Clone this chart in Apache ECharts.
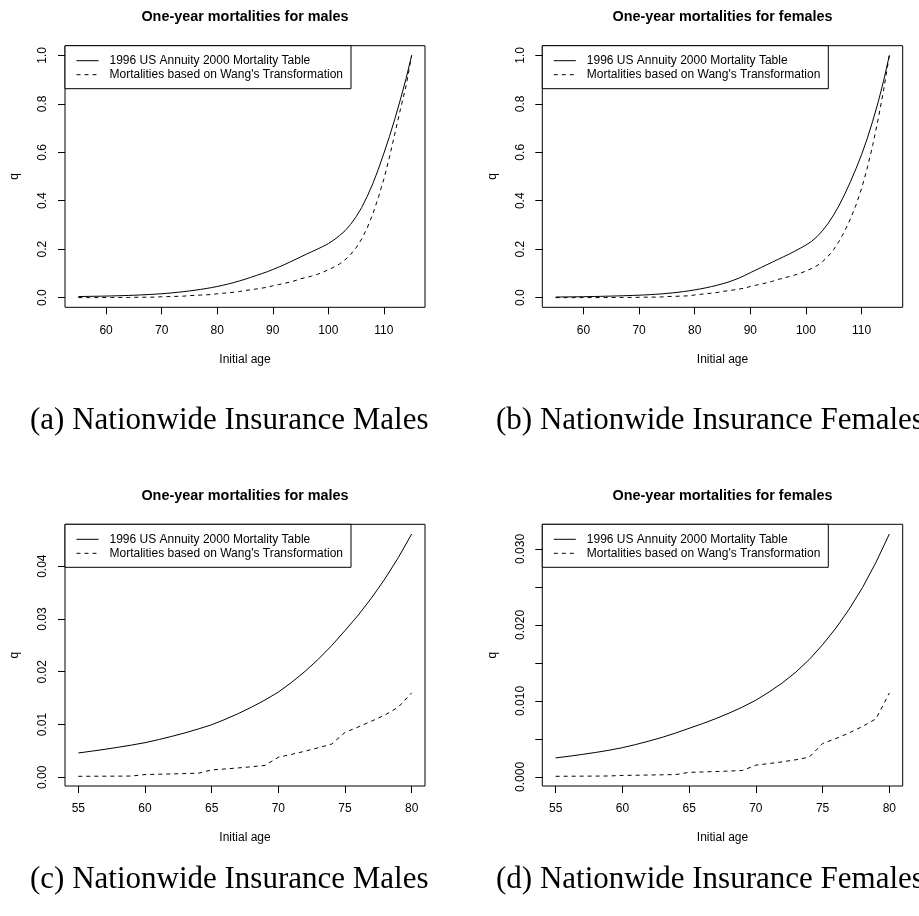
<!DOCTYPE html>
<html>
<head>
<meta charset="utf-8">
<script src="https://cdn.jsdelivr.net/npm/echarts@6/dist/echarts.min.js"></script>
<style>
  html, body { margin: 0; padding: 0; background: #fff; }
  #chart { width: 919px; height: 916px; }
</style>
</head>
<body>
<div id="chart"></div>
<script>
// Initial ages 55..115
const ages = [55, 56, 57, 58, 59, 60, 61, 62, 63, 64, 65, 66, 67, 68, 69, 70,
  71, 72, 73, 74, 75, 76, 77, 78, 79, 80, 81, 82, 83, 84, 85, 86, 87, 88, 89, 90,
  91, 92, 93, 94, 95, 96, 97, 98, 99, 100, 101, 102, 103, 104, 105, 106, 107, 108,
  109, 110, 111, 112, 113, 114, 115];

// One-year mortality q, males, 1996 US Annuity 2000 table
const maleTable = [0.00461, 0.00495, 0.00531, 0.00570, 0.00611, 0.00656, 0.00713,
  0.00775, 0.00842, 0.00916, 0.00996, 0.01097, 0.01208, 0.01330, 0.01465, 0.01614,
  0.01800, 0.02007, 0.02238, 0.02495, 0.02780, 0.03075, 0.03402, 0.03763, 0.04163,
  0.04610, 0.0510, 0.0565, 0.0625, 0.0690, 0.0760, 0.0835, 0.0912, 0.0990, 0.1070,
  0.1160, 0.1255, 0.1355, 0.1460, 0.1570, 0.1680, 0.1790, 0.1895, 0.2000, 0.2110,
  0.2230, 0.2380, 0.2560, 0.2760, 0.3020, 0.3340, 0.3720, 0.4180, 0.4700, 0.5300,
  0.5960, 0.6650, 0.7400, 0.8200, 0.9050, 1.0000];

// One-year mortality q, males, Wang's transformation
const maleWang = [0.00019, 0.00020, 0.00021, 0.00022, 0.00024, 0.00052, 0.00058,
  0.00064, 0.00071, 0.00078, 0.00140, 0.00158, 0.00178, 0.00200, 0.00226, 0.00380,
  0.00435, 0.00495, 0.00560, 0.00630, 0.00850, 0.00955, 0.01065, 0.01180, 0.01330,
  0.01600, 0.0180, 0.0202, 0.0226, 0.0252, 0.0295, 0.0325, 0.0357, 0.0392, 0.0430,
  0.0490, 0.0535, 0.0585, 0.0640, 0.0700, 0.0780, 0.0830, 0.0890, 0.0960, 0.1050,
  0.1150, 0.1260, 0.1390, 0.1560, 0.1780, 0.2060, 0.2420, 0.2880, 0.3450, 0.4130,
  0.4900, 0.5800, 0.6800, 0.7800, 0.8750, 1.0000];

// One-year mortality q, females, 1996 US Annuity 2000 table
const femaleTable = [0.00250, 0.00272, 0.00296, 0.00322, 0.00351, 0.00385, 0.00426,
  0.00472, 0.00522, 0.00578, 0.00640, 0.00701, 0.00767, 0.00840, 0.00920, 0.01010,
  0.01118, 0.01240, 0.01380, 0.01545, 0.01740, 0.01960, 0.02210, 0.02495, 0.02825,
  0.03197, 0.0360, 0.0405, 0.0455, 0.0510, 0.0570, 0.0640, 0.0720, 0.0810, 0.0915,
  0.1030, 0.1140, 0.1250, 0.1360, 0.1470, 0.1580, 0.1690, 0.1800, 0.1920, 0.2040,
  0.2170, 0.2320, 0.2520, 0.2770, 0.3070, 0.3420, 0.3820, 0.4280, 0.4780, 0.5320,
  0.5900, 0.6550, 0.7280, 0.8080, 0.8980, 1.0000];

// One-year mortality q, females, Wang's transformation
const femaleWang = [0.00008, 0.00009, 0.00010, 0.00011, 0.00012, 0.00020, 0.00022,
  0.00025, 0.00028, 0.00031, 0.00060, 0.00065, 0.00071, 0.00077, 0.00085, 0.00155,
  0.00176, 0.00199, 0.00226, 0.00260, 0.00440, 0.00505, 0.00580, 0.00665, 0.00765,
  0.01104, 0.0135, 0.0160, 0.0185, 0.0210, 0.0255, 0.0285, 0.0318, 0.0355, 0.0395,
  0.0460, 0.0510, 0.0560, 0.0615, 0.0675, 0.0750, 0.0810, 0.0870, 0.0935, 0.1005,
  0.1100, 0.1200, 0.1320, 0.1490, 0.1710, 0.1990, 0.2340, 0.2760, 0.3250, 0.3820,
  0.4500, 0.5320, 0.6280, 0.7380, 0.8600, 1.0000];

// Number of ages shown in the zoomed panels (55..80)
const youngCount = 26;

// Tick positions
const xTicksAll = [60, 70, 80, 90, 100, 110];
const xTicksYoung = [55, 60, 65, 70, 75, 80];
const yTicksAll = [0, 0.2, 0.4, 0.6, 0.8, 1.0];
const yTicksMaleYoung = [0, 0.01, 0.02, 0.03, 0.04];
const yTicksFemaleYoung = [0, 0.005, 0.01, 0.015, 0.02, 0.025, 0.03];
const yLabelsFemaleYoung = [0, 0.01, 0.02, 0.03];

const SERIES_TABLE = '1996 US Annuity 2000 Mortality Table';
const SERIES_WANG = "Mortalities based on Wang's Transformation";
const titles = ['One-year mortalities for males', 'One-year mortalities for females',
  'One-year mortalities for males', 'One-year mortalities for females'];
const captions = ['(a) Nationwide Insurance Males', '(b) Nationwide Insurance Females',
  '(c) Nationwide Insurance Males', '(d) Nationwide Insurance Females'];

const SANS = '"Liberation Sans", Arial, Helvetica, sans-serif';
const SERIF = '"Liberation Serif", "Times New Roman", serif';

const panels = [
  { ages: ages, table: maleTable, wang: maleWang, xTicks: xTicksAll,
    yTicks: yTicksAll, yLabels: yTicksAll, digits: 1,
    left: 65, top: 45.7, width: 360, height: 261.6 },
  { ages: ages, table: femaleTable, wang: femaleWang, xTicks: xTicksAll,
    yTicks: yTicksAll, yLabels: yTicksAll, digits: 1,
    left: 542.3, top: 45.7, width: 360.4, height: 261.6 },
  { ages: ages.slice(0, youngCount), table: maleTable.slice(0, youngCount),
    wang: maleWang.slice(0, youngCount), xTicks: xTicksYoung,
    yTicks: yTicksMaleYoung, yLabels: yTicksMaleYoung, digits: 2,
    left: 65, top: 524.3, width: 360, height: 261.7 },
  { ages: ages.slice(0, youngCount), table: femaleTable.slice(0, youngCount),
    wang: femaleWang.slice(0, youngCount), xTicks: xTicksYoung,
    yTicks: yTicksFemaleYoung, yLabels: yLabelsFemaleYoung, digits: 3,
    left: 542.3, top: 524.3, width: 360.4, height: 261.7 }
];

// R-style axis range: data extent widened by 4% on each side
function paddedRange(values) {
  const lo = Math.min.apply(null, values);
  const hi = Math.max.apply(null, values);
  const pad = (hi - lo) * 0.04;
  return [lo - pad, hi + pad];
}

const grids = [], xAxes = [], yAxes = [], series = [], legends = [], titleList = [], graphics = [];
const textBase = { color: '#000', fontFamily: SANS, fontSize: 12 };

panels.forEach(function (p, i) {
  grids.push({ left: p.left, top: p.top, width: p.width, height: p.height,
    show: true, borderColor: '#000', borderWidth: 1, backgroundColor: 'transparent' });

  const xr = paddedRange(p.ages);
  const yr = paddedRange(p.table.concat(p.wang));
  const digits = p.digits;

  xAxes.push({
    gridIndex: i, type: 'value', min: xr[0], max: xr[1], position: 'bottom',
    axisLine: { show: false, onZero: false }, splitLine: { show: false },
    axisTick: { show: true, inside: false, length: 7, customValues: p.xTicks,
      lineStyle: { color: '#000', width: 1 } },
    axisLabel: Object.assign({ customValues: p.xTicks, margin: 17 }, textBase),
    name: 'Initial age', nameLocation: 'middle', nameGap: 46,
    nameTextStyle: Object.assign({}, textBase)
  });
  yAxes.push({
    gridIndex: i, type: 'value', min: yr[0], max: yr[1], position: 'left',
    axisLine: { show: false, onZero: false }, splitLine: { show: false },
    axisTick: { show: true, inside: false, length: 7, customValues: p.yTicks,
      lineStyle: { color: '#000', width: 1 } },
    axisLabel: Object.assign({ customValues: p.yLabels, margin: 16, rotate: 90,
      formatter: function (v) { return Number(v).toFixed(digits); } }, textBase),
    name: 'q', nameLocation: 'middle', nameGap: 44, nameRotate: 90,
    nameTextStyle: Object.assign({}, textBase)
  });

  series.push({
    name: SERIES_TABLE, type: 'line', xAxisIndex: i, yAxisIndex: i,
    data: p.ages.map(function (a, k) { return [a, p.table[k]]; }),
    symbol: 'none', showSymbol: false, silent: true,
    lineStyle: { color: '#000', width: 1, type: 'solid' },
    itemStyle: { color: '#000' }
  });
  series.push({
    name: SERIES_WANG, type: 'line', xAxisIndex: i, yAxisIndex: i,
    data: p.ages.map(function (a, k) { return [a, p.wang[k]]; }),
    symbol: 'none', showSymbol: false, silent: true,
    lineStyle: { color: '#000', width: 1, type: [4, 4] },
    itemStyle: { color: '#000' }
  });

  legends.push({
    orient: 'vertical', left: p.left, top: p.top,
    data: [SERIES_TABLE, SERIES_WANG], selectedMode: false,
    itemWidth: 22, itemHeight: 14, itemGap: 0,
    padding: [8, 8, 7, 11],
    borderColor: '#000', borderWidth: 1, borderRadius: 0, backgroundColor: '#fff',
    itemStyle: { color: 'transparent', borderColor: 'transparent', borderWidth: 0, opacity: 0 },
    lineStyle: { width: 1 },
    textStyle: Object.assign({ lineHeight: 14, padding: [0, 0, 0, 6] }, textBase)
  });

  titleList.push({
    text: titles[i], left: p.left + p.width / 2, top: p.top - 35.3, padding: 0,
    textAlign: 'center',
    textStyle: { color: '#000', fontFamily: SANS, fontSize: 14.4, fontWeight: 'bold' }
  });

  graphics.push({
    type: 'text', x: i % 2 === 0 ? 30 : 496, y: i < 2 ? 421 : 880,
    style: { text: captions[i], fill: '#000', font: '31px ' + SERIF,
      textAlign: 'left', textVerticalAlign: 'middle', align: 'left', verticalAlign: 'middle' }
  });
});

const chart = echarts.init(document.getElementById('chart'), null, { renderer: 'canvas' });
chart.setOption({
  backgroundColor: '#fff',
  animation: false,
  title: titleList,
  legend: legends,
  grid: grids,
  xAxis: xAxes,
  yAxis: yAxes,
  series: series,
  graphic: graphics
});
</script>
</body>
</html>
